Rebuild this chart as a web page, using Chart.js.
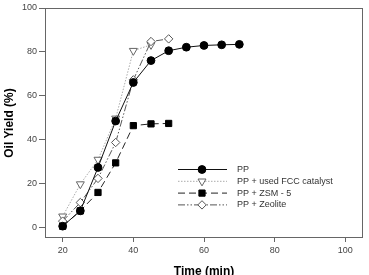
<!DOCTYPE html>
<html>
<head>
<meta charset="utf-8">
<script src="https://cdn.jsdelivr.net/npm/chart.js@4"></script>
<style>
html,body{margin:0;padding:0;background:#fff;overflow:hidden;}
#wrap{position:relative;width:369px;height:275px;}
</style>
</head>
<body>
<div id="wrap"><canvas id="c" width="369" height="275"></canvas></div>
<script>
const seriesNames = ["PP", "PP + used FCC catalyst", "PP + ZSM - 5", "PP + Zeolite"];
const ppX = [20, 25, 30, 35, 40, 45, 50, 55, 60, 65, 70];
const ppY = [0.4, 7.4, 27.2, 48.4, 66, 76, 80.5, 82.1, 82.9, 83.2, 83.4];
const fccX = [20, 25, 30, 35, 40, 45];
const fccY = [4.9, 19.6, 30.8, 49.6, 80.5, 83.2];
const zsmX = [20, 25, 30, 35, 40, 45, 50];
const zsmY = [0.4, 7.4, 15.8, 29.3, 46.3, 47.1, 47.3];
const zeoX = [20, 25, 30, 35, 40, 45, 50];
const zeoY = [2.7, 11.2, 22.2, 38.6, 67.2, 84.7, 85.9];
const xTicks = [20, 40, 60, 80, 100];
const yTicks = [0, 20, 40, 60, 80, 100];
const xTitle = "Time (min)";
const yTitle = "Oil Yield (%)";

const pts = (xs, ys) => xs.map((x, i) => ({x: x, y: ys[i]}));

const styles = [
  {borderColor:'#111', borderWidth:1, borderDash:[], pointStyle:'circle', pointRadius:3.9, pointBackgroundColor:'#000', pointBorderColor:'#000', pointRotation:0},
  {borderColor:'#aaa', borderWidth:1, borderDash:[1.5,1.5], pointStyle:'triangle', pointRadius:4.6, pointBackgroundColor:'#fff', pointBorderColor:'#666', pointRotation:180},
  {borderColor:'#222', borderWidth:1, borderDash:[7,4], pointStyle:'rect', pointRadius:4.4, pointBackgroundColor:'#000', pointBorderColor:'#000', pointRotation:0},
  {borderColor:'#555', borderWidth:1, borderDash:[7,2,1.5,2,1.5,2], pointStyle:'rectRot', pointRadius:4.2, pointBackgroundColor:'#fff', pointBorderColor:'#555', pointRotation:0}
];
const dataArr = [pts(ppX, ppY), pts(fccX, fccY), pts(zsmX, zsmY), pts(zeoX, zeoY)];

const datasets = seriesNames.map((n, i) => Object.assign({
  label: n, data: dataArr[i], showLine: true, fill: false, tension: 0,
  pointBorderWidth: 1, clip: false
}, styles[i]));
datasets[0].order = 0; datasets[1].order = 3; datasets[2].order = 2; datasets[3].order = 1;

const frame = {
  id: 'frame',
  beforeDatasetsDraw(chart) {
    const {ctx, chartArea: a} = chart;
    ctx.save();
    ctx.strokeStyle = '#666';
    ctx.lineWidth = 1;
    ctx.strokeRect(Math.round(a.left) + 0.5, Math.round(a.top) + 0.5, Math.round(a.right - a.left) - 1, Math.round(a.bottom - a.top) - 1);
    ctx.restore();
  }
};

const legendIn = {
  id: 'legendIn',
  afterDatasetsDraw(chart) {
    const ctx = chart.ctx;
    const x0 = 178, x1 = 227, xm = 202, xt = 237, y0 = 169.5, dy = 11.8;
    ctx.save();
    chart.data.datasets.forEach((d, i) => {
      const y = y0 + i * dy;
      ctx.beginPath();
      ctx.setLineDash(d.borderDash || []);
      ctx.strokeStyle = d.borderColor;
      ctx.lineWidth = d.borderWidth;
      ctx.moveTo(x0, y); ctx.lineTo(x1, y);
      ctx.stroke();
      ctx.setLineDash([]);
      ctx.fillStyle = d.pointBackgroundColor;
      ctx.strokeStyle = d.pointBorderColor;
      ctx.lineWidth = 1;
      Chart.helpers.drawPoint(ctx, {pointStyle: d.pointStyle, radius: d.pointRadius, rotation: d.pointRotation, borderWidth: 1}, xm, y);
      ctx.fillStyle = '#333';
      ctx.font = '9px "Liberation Sans", Arial, sans-serif';
      ctx.textBaseline = 'middle';
      ctx.textAlign = 'left';
      ctx.fillText(d.label, xt, y);
    });
    ctx.restore();
  }
};

new Chart(document.getElementById('c'), {
  type: 'scatter',
  data: {datasets},
  options: {
    responsive: false,
    animation: false,
    devicePixelRatio: 1,
    layout: {padding: {top: 8, right: 6, left: 0, bottom: 0}},
    plugins: {legend: {display: false}, tooltip: {enabled: false}},
    scales: {
      x: {
        type: 'linear', min: 15, max: 105,
        afterBuildTicks: s => { s.ticks = xTicks.map(v => ({value: v})); },
        afterFit: s => { s.height = 37; },
        grid: {display: true, drawOnChartArea: false, drawTicks: true, tickLength: 4, color: '#666'},
        border: {display: false},
        ticks: {color: '#444', font: {family: '"Liberation Sans", Arial, sans-serif', size: 9}, padding: 3, maxRotation: 0},
        title: {display: true, text: xTitle, color: '#000', font: {family: '"Liberation Sans", Arial, sans-serif', size: 12, weight: 'bold', lineHeight: 1.2}, padding: {top: 0, bottom: -3.5}}
      },
      y: {
        type: 'linear', min: -5, max: 100,
        afterBuildTicks: s => { s.ticks = yTicks.map(v => ({value: v})); },
        afterFit: s => { s.width = 45; },
        grid: {display: true, drawOnChartArea: false, drawTicks: true, tickLength: 6, color: '#666'},
        border: {display: false},
        ticks: {color: '#444', font: {family: '"Liberation Sans", Arial, sans-serif', size: 9}, padding: 2},
        title: {display: true, text: yTitle, color: '#000', font: {family: '"Liberation Sans", Arial, sans-serif', size: 12, weight: 'bold', lineHeight: 1.2}, padding: {top: 2, bottom: 0}}
      }
    }
  },
  plugins: [frame, legendIn]
});
</script>
</body>
</html>
